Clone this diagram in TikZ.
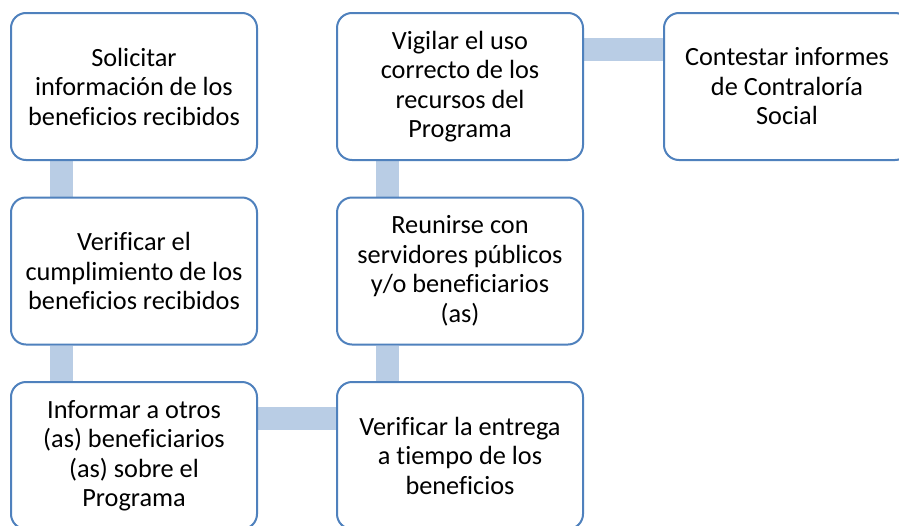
\documentclass[tikz,border=0pt]{standalone}
\usepackage{fontspec}
\setmainfont[Ligatures=NoCommon]{Carlito}
\usetikzlibrary{backgrounds}
\definecolor{boxline}{HTML}{4F81BD}
\definecolor{barcol}{HTML}{B9CDE5}
\tikzset{
  stepbox/.style={rectangle, rounded corners=15pt, draw=boxline, line width=2pt,
    fill=white, minimum width=246pt, minimum height=147pt, inner sep=0pt,
    align=center, font=\fontsize{26.3}{29.5}\selectfont},
  bar/.style={draw=barcol, line width=23pt}
}
\begin{document}
\begin{tikzpicture}[x=1pt,y=1pt]
\clip (0,0) rectangle (899,-525);
\node[stepbox] (A) at (134,-86.5) {Solicitar\\información de los\\beneficios recibidos};
\node[stepbox] (B) at (134,-271) {Verificar el\\cumplimiento de los\\beneficios recibidos};
\node[stepbox] (C) at (134,-455.5) {Informar a otros\\(as) beneficiarios\\(as) sobre el\\Programa};
\node[stepbox] (D) at (460,-86.5) {Vigilar el uso\\correcto de los\\recursos del\\Programa};
\node[stepbox] (E) at (460,-271) {Reunirse con\\servidores públicos\\y/o beneficiarios\\(as)};
\node[stepbox] (F) at (460,-455.5) {Verificar la entrega\\a tiempo de los\\beneficios};
\node[stepbox] (G) at (787,-86.5) {Contestar informes\\de Contraloría\\Social};
\begin{scope}[on background layer]
\fill[white] (0,0) rectangle (899,-525);
\draw[bar] ([xshift=-72.5pt]A.south) -- ([xshift=-72.5pt]B.north);
\draw[bar] ([xshift=-72.5pt]B.south) -- ([xshift=-72.5pt]C.north);
\draw[bar] ([xshift=-72.5pt]D.south) -- ([xshift=-72.5pt]E.north);
\draw[bar] ([xshift=-72.5pt]E.south) -- ([xshift=-72.5pt]F.north);
\draw[bar] ([yshift=37pt]D.east) -- ([yshift=37pt]G.west);
\draw[bar] ([yshift=37.5pt]C.east) -- ([yshift=37.5pt]F.west);
\end{scope}
\end{tikzpicture}
\end{document}
